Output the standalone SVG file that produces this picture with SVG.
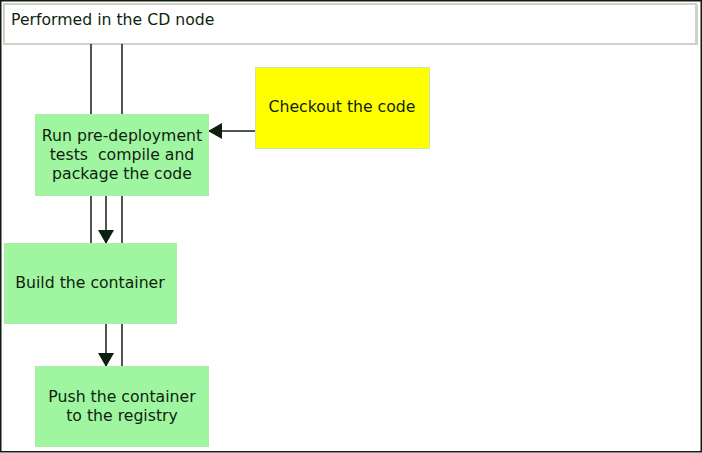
<svg xmlns="http://www.w3.org/2000/svg" width="702" height="453" viewBox="0 0 702 453">
<style>
text{font-family:"DejaVu Sans",sans-serif;font-size:15.7px;fill:#0f1f0f;white-space:pre}
.g{fill:#a0f5a0;stroke:#b0e8b0;stroke-width:1}
.ln{stroke:#0f1f0f;stroke-width:1.5;fill:none}
</style>
<defs>
<marker id="ah" markerWidth="14" markerHeight="16" refX="13" refY="8" orient="auto" markerUnits="userSpaceOnUse">
<path d="M0,0 L14,8 L0,16 Z" fill="#0f1f0f"/>
</marker>
</defs>
<rect x="0.75" y="0.75" width="700.5" height="451" fill="#ffffff" stroke="#0f1f0f" stroke-width="1.5"/>
<g id="title">
<rect x="4" y="4" width="692" height="40" fill="#ffffff" stroke="#d0d0c8" stroke-width="2"/>
<line x1="697" y1="5" x2="697" y2="45" stroke="#d0d0c8" stroke-width="2"/>
<text x="11" y="25">Performed in the CD node</text>
</g>
<g id="connectors">
<line class="ln" x1="91" y1="44" x2="91" y2="114"/>
<line class="ln" x1="122" y1="44" x2="122" y2="114"/>
<line class="ln" x1="91" y1="196" x2="91" y2="243"/>
<line class="ln" x1="122" y1="196" x2="122" y2="243"/>
<line class="ln" x1="106" y1="196" x2="106" y2="243" marker-end="url(#ah)"/>
<line class="ln" x1="122" y1="324" x2="122" y2="366"/>
<line class="ln" x1="106" y1="324" x2="106" y2="366" marker-end="url(#ah)"/>
<line class="ln" x1="255" y1="131" x2="209" y2="131" marker-end="url(#ah)"/>
</g>
<g id="checkout">
<rect x="255.5" y="67.5" width="174" height="81" fill="#ffff00" stroke="#c8e8a0" stroke-width="1"/>
<text x="342" y="112" text-anchor="middle">Checkout the code</text>
</g>
<g id="run">
<rect class="g" x="35.5" y="114.5" width="173" height="81"/>
<text x="122" y="141" text-anchor="middle">Run pre-deployment</text>
<text x="122" y="160" text-anchor="middle" xml:space="preserve">tests  compile and</text>
<text x="122" y="179" text-anchor="middle">package the code</text>
</g>
<g id="build">
<rect class="g" x="4.5" y="243.5" width="172" height="80"/>
<text x="90" y="288" text-anchor="middle">Build the container</text>
</g>
<g id="push">
<rect class="g" x="35.5" y="366.5" width="173" height="80"/>
<text x="122" y="402" text-anchor="middle">Push the container</text>
<text x="122" y="421" text-anchor="middle">to the registry</text>
</g>
</svg>
